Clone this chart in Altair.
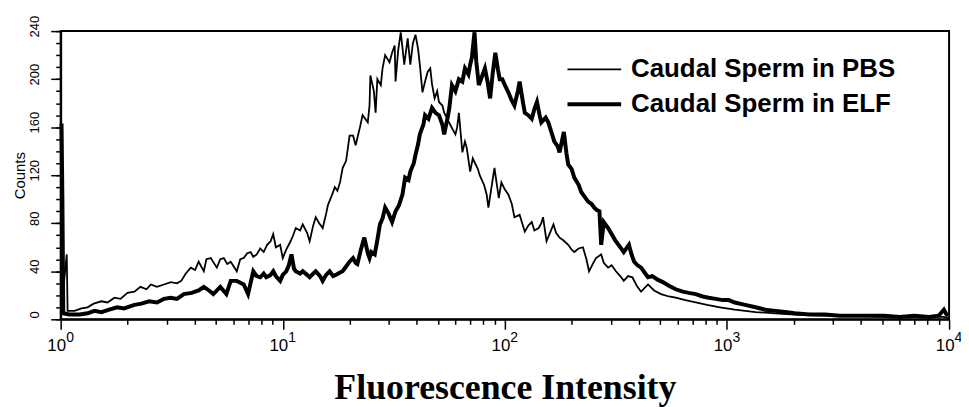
import altair as alt
import pandas as pd

series_names = ["Caudal Sperm in PBS", "Caudal Sperm in ELF"]

# Histogram channels (1024 channels over 4 log decades) and counts
pbs_channel = [1, 7, 8, 16, 24, 31, 38, 47, 54, 62,
               69, 77, 85, 92, 99, 104, 111, 119, 127, 134,
               139, 144, 150, 155, 159, 165, 168, 173, 180, 184,
               188, 192, 196, 203, 207, 211, 215, 219, 222, 226,
               230, 234, 238, 242, 245, 248, 253, 256, 260, 265,
               268, 271, 276, 279, 284, 287, 291, 294, 298, 302,
               306, 308, 313, 316, 319, 322, 325, 329, 333, 337,
               340, 345, 348, 354, 356, 357, 361, 363, 365, 369,
               371, 374, 379, 382, 385, 386, 389, 392, 394, 396,
               400, 403, 406, 409, 412, 414, 417, 420, 423, 426,
               428, 431, 434, 436, 440, 442, 445, 449, 452, 455,
               457, 459, 463, 466, 468, 472, 475, 477, 481, 483,
               488, 491, 493, 497, 500, 505, 508, 512, 516, 520,
               523, 529, 532, 535, 539, 543, 546, 551, 554, 556,
               560, 564, 568, 571, 575, 579, 585, 589, 592, 597,
               602, 606, 609, 614, 617, 623, 626, 631, 635, 640,
               645, 649, 654, 659, 664, 669, 677, 684, 692, 701,
               709, 720, 732, 745, 760, 777, 801, 824, 846, 881,
               915, 950, 984, 1018, 1023]
pbs_counts = [10, 54, 7, 7, 9, 10, 13, 15, 14, 18,
              17, 22, 23, 27, 25, 29, 27, 29, 31, 30,
              32, 38, 43, 41, 48, 40, 50, 51, 43, 50,
              51, 46, 48, 40, 50, 51, 55, 56, 52, 54,
              59, 56, 62, 65, 71, 60, 62, 51, 58, 65,
              70, 76, 74, 79, 72, 65, 78, 85, 80, 76,
              88, 95, 104, 110, 107, 114, 126, 132, 153, 153,
              145, 160, 170, 164, 178, 203, 190, 172, 200, 195,
              209, 220, 214, 222, 228, 198, 224, 239, 226, 212,
              234, 212, 230, 237, 225, 212, 189, 198, 206, 209,
              196, 184, 190, 181, 178, 172, 168, 162, 158, 154,
              160, 172, 139, 148, 143, 123, 134, 131, 125, 120,
              112, 104, 93, 112, 126, 101, 114, 108, 104, 96,
              85, 87, 80, 73, 78, 81, 74, 76, 80, 85,
              65, 72, 79, 72, 68, 66, 62, 58, 56, 59,
              60, 50, 40, 47, 51, 54, 47, 43, 45, 40,
              36, 32, 36, 35, 28, 23, 29, 24, 21, 19,
              18, 16, 14, 12, 10, 8, 6, 5, 4, 3,
              3, 2, 2, 2, 1]

elf_channel = [1, 2, 3, 10, 22, 31, 39, 47, 56, 65,
               73, 85, 93, 102, 111, 119, 127, 134, 142, 151,
               159, 165, 171, 176, 184, 191, 196, 203, 211, 216,
               222, 226, 230, 234, 237, 242, 245, 248, 253, 256,
               260, 263, 266, 269, 271, 276, 279, 284, 287, 291,
               294, 299, 302, 306, 310, 314, 317, 322, 325, 329,
               333, 337, 340, 342, 346, 350, 354, 356, 358, 362,
               365, 368, 371, 374, 378, 382, 386, 390, 394, 397,
               401, 403, 407, 409, 412, 414, 418, 420, 424, 428,
               432, 436, 440, 442, 446, 448, 451, 455, 459, 463,
               466, 470, 472, 474, 477, 479, 482, 486, 489, 492,
               495, 498, 501, 504, 506, 509, 512, 516, 520, 523,
               527, 529, 533, 535, 539, 543, 546, 549, 552, 554,
               559, 562, 566, 569, 573, 575, 580, 583, 585, 589,
               592, 597, 600, 604, 608, 612, 615, 618, 621, 623,
               626, 631, 635, 639, 643, 646, 649, 655, 658, 661,
               665, 669, 673, 677, 682, 688, 694, 701, 709, 717,
               724, 732, 740, 747, 755, 763, 770, 777, 789, 801,
               812, 824, 835, 846, 863, 881, 898, 915, 932, 950,
               967, 984, 1001, 1012, 1018, 1021, 1023]
elf_counts = [163, 98, 5, 4, 4, 5, 7, 6, 8, 10,
              9, 12, 13, 15, 14, 17, 18, 17, 21, 22,
              24, 27, 24, 21, 27, 21, 32, 32, 29, 21,
              40, 36, 35, 38, 35, 37, 40, 36, 32, 37,
              40, 45, 54, 42, 40, 38, 40, 37, 35, 38,
              40, 36, 32, 37, 40, 36, 37, 39, 40, 44,
              48, 51, 47, 46, 58, 68, 55, 51, 56, 54,
              66, 79, 84, 93, 88, 81, 90, 95, 104, 118,
              116, 123, 130, 137, 146, 154, 162, 170, 167, 176,
              172, 170, 162, 154, 168, 176, 195, 190, 200, 198,
              209, 204, 212, 218, 239, 215, 195, 203, 209, 198,
              184, 205, 222, 208, 200, 200, 195, 189, 182, 178,
              190, 198, 180, 172, 170, 167, 175, 181, 170, 164,
              168, 164, 155, 148, 144, 139, 156, 138, 129, 125,
              118, 112, 106, 102, 98, 96, 93, 91, 90, 62,
              81, 76, 71, 66, 62, 59, 56, 62, 54, 48,
              45, 43, 39, 35, 36, 33, 31, 28, 25, 23,
              22, 21, 19, 18, 17, 16, 16, 14, 12, 10,
              8, 7, 6, 5, 4, 4, 3, 3, 3, 3,
              2, 3, 2, 3, 8, 4, 3]

major_x = [1, 10, 100, 1000, 10000]
minor_x = [m * 10 ** d for d in range(4) for m in range(2, 10)]
major_y = [0, 40, 80, 120, 160, 200, 240]
minor_y = list(range(0, 250, 10))

CHANNELS_PER_DECADE = 256

rows = []
for name, chans, counts in [(series_names[0], pbs_channel, pbs_counts),
                            (series_names[1], elf_channel, elf_counts)]:
    for ch, c in zip(chans, counts):
        rows.append({"series": name, "intensity": 10 ** (ch / CHANNELS_PER_DECADE), "count": c})
df = pd.DataFrame(rows)

SANS = "Liberation Sans"
SERIF = "Liberation Serif"

x_scale = alt.Scale(type="log", domain=[1, 10000])
y_scale = alt.Scale(domain=[0, 240], nice=False)

lines = alt.Chart(df).mark_line(color="black", strokeJoin="miter").encode(
    x=alt.X("intensity:Q", scale=x_scale, axis=alt.Axis(
        orient="bottom", values=major_x, labelExpr="'10'", labelAlign="right", labelOffset=5,
        labelBaseline="alphabetic", labelPadding=21, labelFontSize=17, labelFont=SANS,
        labelColor="black", labelFlush=False, labelOverlap=False, tickSize=10, tickWidth=1.5,
        tickColor="black", domainColor="black", domainWidth=2, grid=False,
        title="Fluorescence Intensity", titleFont=SERIF, titleFontSize=36, titleFontWeight="bold",
        titleColor="black", titleBaseline="alphabetic", titleY=80)),
    y=alt.Y("count:Q", scale=y_scale, axis=alt.Axis(
        orient="left", values=major_y, labelAngle=-90, labelAlign="center", labelBaseline="bottom",
        labelOffset=-5, labelPadding=9, labelFontSize=13, labelFont=SANS, labelColor="black",
        labelFlush=False, labelOverlap=False, tickSize=10, tickWidth=1.5, tickColor="black",
        domainColor="black", domainWidth=2, grid=False, title="Counts", titleFont=SANS,
        titleFontSize=15, titleFontWeight="normal", titleColor="black", titlePadding=1)),
    strokeWidth=alt.StrokeWidth("series:N", scale=alt.Scale(domain=series_names, range=[1.8, 4]),
        legend=alt.Legend(title=None, orient="none", legendX=508, legendY=21, symbolType="stroke",
                          symbolSize=2916, symbolStrokeColor="black", labelFont=SANS,
                          labelFontSize=26, labelFontWeight="bold", labelColor="black",
                          labelOffset=8, rowPadding=0, clipHeight=35, labelLimit=500)),
    detail="series:N",
)

exp_layer = alt.Chart(df).mark_line(opacity=0).encode(
    x=alt.X("intensity:Q", scale=x_scale, axis=alt.Axis(
        orient="bottom", values=major_x, labelExpr="'' + round(log(datum.value) / LN10)",
        labelAlign="left", labelOffset=5, labelBaseline="alphabetic", labelPadding=22,
        labelFontSize=14, labelFont=SANS, labelColor="black", labelFlush=False, labelOverlap=False,
        ticks=True, tickSize=0, tickOpacity=0, domain=False, grid=False, title=None)),
    y=alt.Y("count:Q", scale=y_scale, axis=alt.Axis(
        orient="left", values=minor_y, labels=False, tickSize=5, tickWidth=1.5, tickColor="black",
        domain=False, grid=False, title=None)),
    detail="series:N",
)

minor_layer = alt.Chart(df).mark_line(opacity=0).encode(
    x=alt.X("intensity:Q", scale=x_scale, axis=alt.Axis(
        orient="bottom", values=minor_x, labels=False, tickSize=5, tickWidth=1.5, tickColor="black",
        domain=False, grid=False, title=None)),
    y=alt.Y("count:Q", scale=y_scale, axis=None),
    detail="series:N",
)

chart = alt.layer(lines, exp_layer, minor_layer).resolve_axis(
    x="independent", y="independent"
).properties(
    width=894, height=290,
    autosize=alt.AutoSizeParams(type="none"),
    padding={"left": 53, "top": 22, "right": 12, "bottom": 87},
    background="white",
).configure_view(stroke="black", strokeWidth=2)

chart.save("out.html", embed_options={"renderer": "svg", "actions": False})
